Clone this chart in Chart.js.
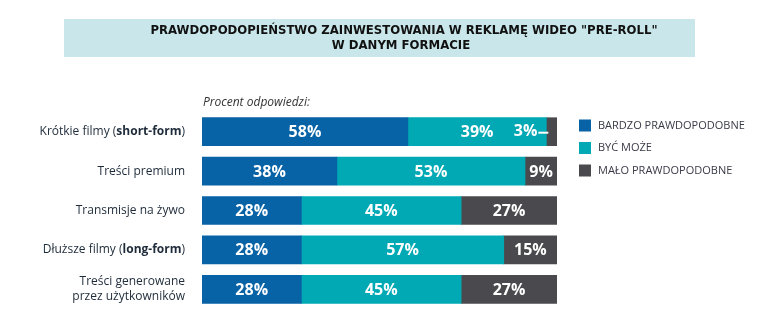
<!DOCTYPE html>
<html>
<head>
<meta charset="utf-8">
<script src="https://cdn.jsdelivr.net/npm/chart.js@4.4.1/dist/chart.umd.min.js"></script>
<style>
  html, body { margin: 0; padding: 0; background: #fff; }
  #wrap { width: 775px; height: 335px; position: relative; }
</style>
</head>
<body>
<div id="wrap"><canvas id="myChart" width="775" height="335"></canvas></div>
<script>
// data
const titleLines = ['PRAWDOPODOPIEŃSTWO ZAINWESTOWANIA W REKLAMĘ WIDEO "PRE-ROLL"', 'W DANYM FORMACIE'];
const axisNote = 'Procent odpowiedzi:';
const categories = ['Krótkie filmy (short-form)', 'Treści premium', 'Transmisje na żywo', 'Dłuższe filmy (long-form)', ['Treści generowane', 'przez użytkowników']];
const boldTerms = ['short-form', 'long-form'];
const seriesNames = ['BARDZO PRAWDOPODOBNE', 'BYĆ MOŻE', 'MAŁO PRAWDOPODOBNE'];
const veryLikely = [58, 38, 28, 28, 28];
const maybe = [39, 53, 45, 57, 45];
const unlikely = [3, 9, 27, 15, 27];
const seriesColors = ['#0762a6', '#00a9b4', '#4a4a4e'];

const labelFont = '"Open Sans", sans-serif';

// title box + note above bars
const titlePlugin = {
    id: 'titleBox',
    beforeDraw(chart) {
        const ctx = chart.ctx;
        ctx.save();
        ctx.fillStyle = '#c9e7ea';
        ctx.fillRect(64, 19, 631, 38);
        ctx.fillStyle = '#111';
        ctx.font = 'bold 13px "DejaVu Sans Condensed", "DejaVu Sans", sans-serif';
        ctx.textAlign = 'center';
        ctx.textBaseline = 'middle';
        ctx.fillText(titleLines[0], 404, 31);
        ctx.fillText(titleLines[1], 401, 46);

        ctx.font = 'italic 12px ' + labelFont;
        ctx.fillStyle = '#333';
        ctx.textAlign = 'left';
        ctx.fillText(axisNote, 203, 103);
        ctx.restore();
    }
};

// category labels with bold parts
const catLabelPlugin = {
    id: 'catLabels',
    afterDraw(chart) {
        const ctx = chart.ctx;
        const yScale = chart.scales.y;
        ctx.save();
        ctx.fillStyle = '#1e2b3a';
        ctx.textBaseline = 'middle';
        categories.forEach((cat, i) => {
            const lines = Array.isArray(cat) ? cat : [cat];
            const yc = yScale.getPixelForValue(i);
            lines.forEach((line, j) => {
                const y = yc + (j - (lines.length - 1) / 2) * 15;
                // split into normal/bold pieces
                let pieces = [{ t: line, b: false }];
                boldTerms.forEach(term => {
                    const out = [];
                    pieces.forEach(p => {
                        if (p.b || p.t.indexOf(term) < 0) { out.push(p); return; }
                        const k = p.t.indexOf(term);
                        out.push({ t: p.t.slice(0, k), b: false });
                        out.push({ t: term, b: true });
                        out.push({ t: p.t.slice(k + term.length), b: false });
                    });
                    pieces = out;
                });
                let x = 185;
                ctx.textAlign = 'right';
                for (let n = pieces.length - 1; n >= 0; n--) {
                    const p = pieces[n];
                    ctx.font = (p.b ? 'bold ' : '') + '12px ' + labelFont;
                    ctx.fillText(p.t, x, y);
                    x -= ctx.measureText(p.t).width;
                }
            });
        });
        ctx.restore();
    }
};

// percent labels inside bars
const valueLabelPlugin = {
    id: 'valueLabels',
    afterDatasetsDraw(chart) {
        const ctx = chart.ctx;
        ctx.save();
        ctx.font = 'bold 16px ' + labelFont;
        ctx.fillStyle = '#fff';
        ctx.strokeStyle = '#fff';
        ctx.textBaseline = 'middle';
        chart.data.datasets.forEach((ds, di) => {
            chart.getDatasetMeta(di).data.forEach((bar, i) => {
                const txt = ds.data[i] + '%';
                const w = Math.abs(bar.x - bar.base);
                if (w < 25) {
                    // too narrow: put label left of the segment with a short leader
                    ctx.textAlign = 'right';
                    ctx.fillText(txt, bar.base - 9, bar.y);
                    ctx.lineWidth = 2;
                    ctx.beginPath();
                    ctx.moveTo(bar.base - 8, bar.y + 1);
                    ctx.lineTo(bar.base + 2, bar.y + 1);
                    ctx.stroke();
                } else {
                    ctx.textAlign = 'center';
                    ctx.fillText(txt, (bar.x + bar.base) / 2, bar.y + 1);
                }
            });
        });
        ctx.restore();
    }
};

// legend on the right
const legendPlugin = {
    id: 'sideLegend',
    afterDraw(chart) {
        const ctx = chart.ctx;
        ctx.save();
        ctx.font = '11px ' + labelFont;
        ctx.textBaseline = 'middle';
        ctx.textAlign = 'left';
        chart.data.datasets.forEach((ds, i) => {
            const y = 125.5 + i * 22.5;
            ctx.fillStyle = ds.backgroundColor;
            ctx.fillRect(579, y - 6, 12, 12);
            ctx.fillStyle = '#3a3a48';
            ctx.fillText(ds.label, 598, y);
        });
        ctx.restore();
    }
};

const ctx = document.getElementById('myChart').getContext('2d');
window.myChart = new Chart(ctx, {
    type: 'bar',
    data: {
        labels: categories,
        datasets: [veryLikely, maybe, unlikely].map((vals, i) => ({
            label: seriesNames[i],
            data: vals,
            backgroundColor: seriesColors[i],
            borderWidth: 0,
            barThickness: 28
        }))
    },
    options: {
        indexAxis: 'y',
        responsive: false,
        animation: false,
        layout: { padding: { top: 112, bottom: 26, left: 0, right: 218 } },
        plugins: {
            legend: { display: false },
            tooltip: { enabled: false }
        },
        scales: {
            x: {
                stacked: true,
                min: 0,
                max: 100,
                display: false
            },
            y: {
                stacked: true,
                grid: { display: false },
                border: { display: false },
                ticks: { display: false },
                afterFit(scale) { scale.width = 202; }
            }
        }
    },
    plugins: [titlePlugin, catLabelPlugin, valueLabelPlugin, legendPlugin]
});
</script>
</body>
</html>
